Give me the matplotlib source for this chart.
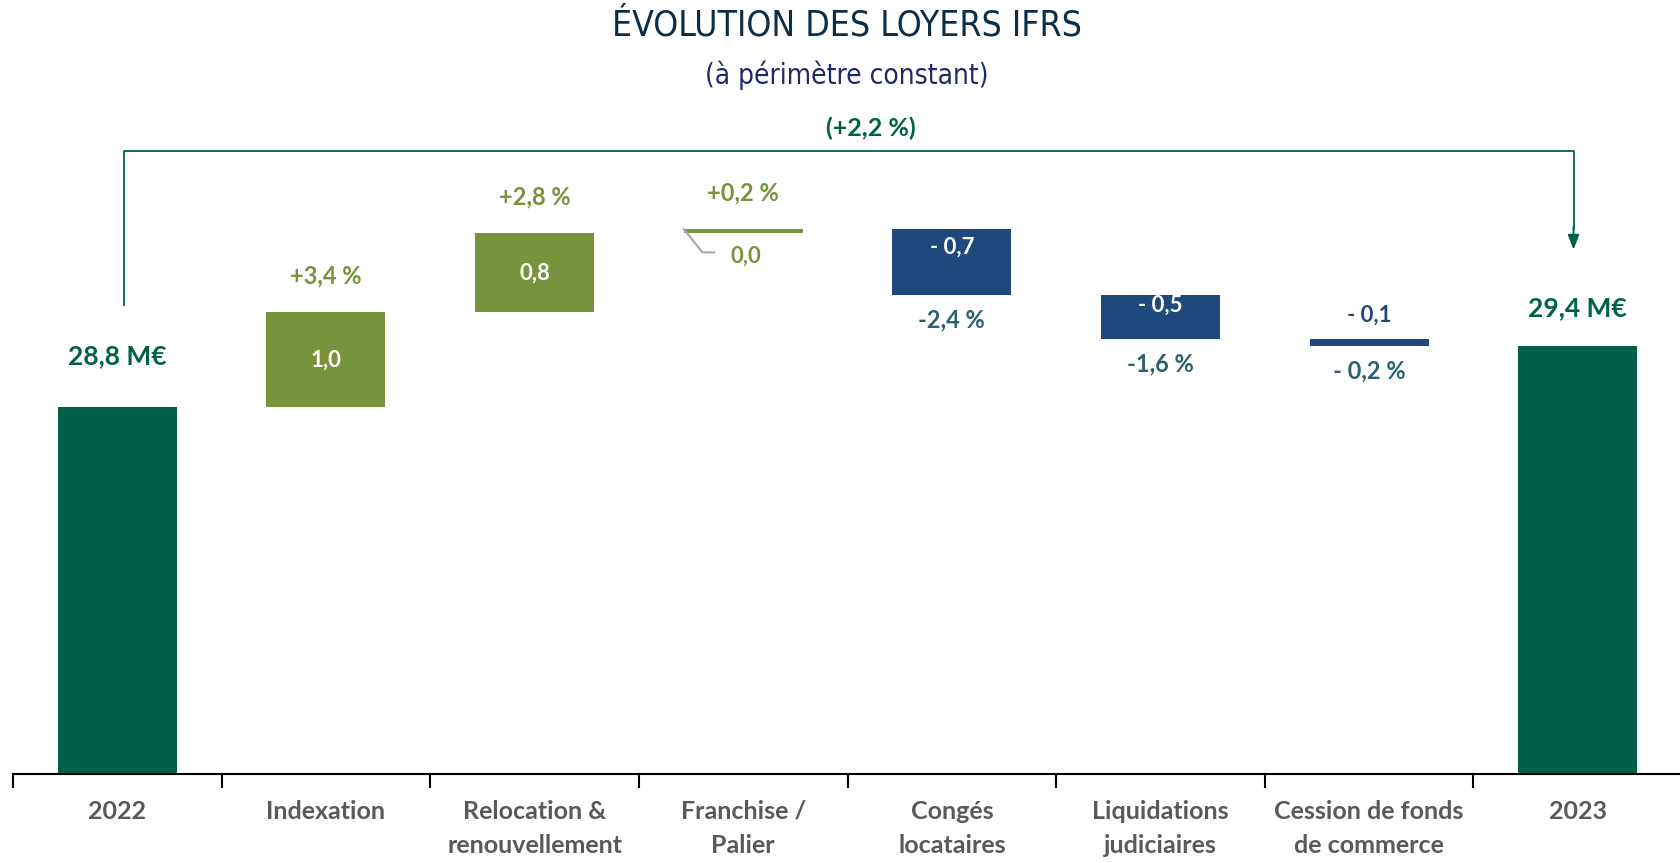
import matplotlib
matplotlib.use('Agg')
import matplotlib.pyplot as plt
from matplotlib import font_manager as fm
import numpy as np

# data (M€)
categories = ['2022', 'Indexation', 'Relocation &\nrenouvellement', 'Franchise /\nPalier',
              'Congés\nlocataires', 'Liquidations\njudiciaires', 'Cession de fonds\nde commerce', '2023']
start_value = 28.8
end_value = 29.4
steps = [0.93, 0.78, 0.04, -0.65, -0.43, -0.07]
step_labels = ['1,0', '0,8', '0,0', '- 0,7', '- 0,5', '- 0,1']
pct_labels = ['+3,4 %', '+2,8 %', '+0,2 %', '-2,4 %', '-1,6 %', '- 0,2 %']
total_labels = ['28,8 M€', '29,4 M€']
total_pct = '(+2,2 %)'

C_TOTAL = '#00614a'
C_POS = '#77933c'
C_NEG = '#1f497d'
C_NEG_TXT = '#2b6170'
C_TICK = '#595959'
LAB = ['Lato', 'DejaVu Sans']

# narrow font for the title if one is installed
narrow_family, narrow_stretch = 'Roboto', 'normal'
for f in fm.fontManager.ttflist:
    if f.style == 'normal' and f.weight in (400, 'normal', 'regular') and (
            'Narrow' in f.name or 'Condensed' in f.name or f.stretch in ('condensed', 'semi-condensed')):
        narrow_family, narrow_stretch = f.name, f.stretch
        break

fig = plt.figure(figsize=(16.8, 8.63), dpi=100)
ax = fig.add_axes([13 / 1680, 0.1037, 1669 / 1680, 0.8963])
ax.set_xlim(-0.5, 7.5)
ax.set_ylim(25.2, 32.8)
W = 0.57

# bars
x = np.arange(len(categories))
ax.bar(x[0], start_value - 25.2, bottom=25.2, width=W, color=C_TOTAL)
ax.bar(x[-1], end_value - 25.2, bottom=25.2, width=W, color=C_TOTAL)
cum = start_value
tops = []
for i, s in enumerate(steps):
    lo, hi = (cum, cum + s) if s >= 0 else (cum + s, cum)
    ax.bar(x[i + 1], hi - lo, bottom=lo, width=W, color=C_POS if s >= 0 else C_NEG)
    tops.append((lo, hi))
    cum += s

# step labels
for i, (s, (lo, hi)) in enumerate(zip(steps, tops)):
    xi = x[i + 1]
    if s >= 0:
        ax.annotate(pct_labels[i], (xi, hi), xytext=(0, 26), textcoords='offset points',
                    ha='center', va='center', fontsize=17, fontweight='bold', color=C_POS, family=LAB)
    else:
        ax.annotate(pct_labels[i], (xi, lo), xytext=(0, -18), textcoords='offset points',
                    ha='center', va='center', fontsize=17, fontweight='bold', color=C_NEG_TXT, family=LAB)

# value labels
VS = 16
ax.text(x[1], sum(tops[0]) / 2, step_labels[0], ha='center', va='center', fontsize=VS,
        fontweight='bold', color='white', family=LAB)
ax.text(x[2], sum(tops[1]) / 2, step_labels[1], ha='center', va='center', fontsize=VS,
        fontweight='bold', color='white', family=LAB)
ax.annotate(step_labels[3], (x[4], tops[3][1]), xytext=(0, -13), textcoords='offset points',
            ha='center', va='center', fontsize=VS, fontweight='bold', color='white', family=LAB)
ax.annotate(step_labels[4], (x[5], tops[4][1]), xytext=(0, -7), textcoords='offset points',
            ha='center', va='center', fontsize=VS, fontweight='bold', color='white', family=LAB)
ax.annotate(step_labels[5], (x[6], tops[5][1]), xytext=(0, 17), textcoords='offset points',
            ha='center', va='center', fontsize=VS, fontweight='bold', color=C_NEG, family=LAB)

# franchise 0,0 with leader line
fx0 = x[3] - W / 2
fy = tops[2][1]
ax.plot([fx0, fx0 + 0.09, fx0 + 0.145], [fy, fy - 0.23, fy - 0.23], color='#a6a6a6', lw=1.5,
        solid_joinstyle='miter')
ax.text(fx0 + 0.225, fy - 0.27, step_labels[2], ha='left', va='center', fontsize=VS,
        fontweight='bold', color=C_POS, family=LAB)

# totals
ax.annotate(total_labels[0], (x[0], start_value), xytext=(0, 37), textcoords='offset points',
            ha='center', va='center', fontsize=19, fontweight='bold', color=C_TOTAL, family=LAB)
ax.annotate(total_labels[1], (x[-1], end_value), xytext=(0, 27), textcoords='offset points',
            ha='center', va='center', fontsize=19, fontweight='bold', color=C_TOTAL, family=LAB)

# bracket with arrow
yb = 31.315
ax.plot([x[0] + 0.03, x[0] + 0.03, x[-1] - 0.02, x[-1] - 0.02], [29.8, yb, yb, 30.55],
        color=C_TOTAL, lw=1.3)
ax.annotate('', xy=(x[-1] - 0.02, 30.32), xytext=(x[-1] - 0.02, 30.6),
            arrowprops=dict(arrowstyle='-|>,head_length=0.9,head_width=0.35', color=C_TOTAL, lw=1.3))
ax.text(3.61, yb + 0.22, total_pct, ha='center', va='center', fontsize=18,
        fontweight='bold', color=C_TOTAL, family=LAB)

# axes styling
for sp in ['left', 'right', 'top']:
    ax.spines[sp].set_visible(False)
ax.spines['bottom'].set_linewidth(1.5)
ax.set_yticks([])
ax.set_xticks(x)
ax.set_xticklabels(categories, fontsize=18, fontweight='bold', color=C_TICK, family=LAB,
                   linespacing=1.58)
ax.tick_params(axis='x', which='major', length=0, pad=19)
ax.set_xticks(np.arange(-0.5, 7.5, 1.0), minor=True)
ax.tick_params(axis='x', which='minor', length=10, width=1.5, direction='out')

# titles, sized so their width matches the reference
t1 = fig.text(0.504, 0.970, 'ÉVOLUTION DES LOYERS IFRS', ha='center', va='center', fontsize=30,
              color='#0c2d48', family=narrow_family, fontstretch=narrow_stretch)
t2 = fig.text(0.504, 0.913, '(à périmètre constant)', ha='center', va='center', fontsize=21,
              color='#1c2a6b', family=narrow_family, fontstretch=narrow_stretch)
fig.canvas.draw()
r = fig.canvas.get_renderer()
for t, target in [(t1, 470), (t2, 284)]:
    w = t.get_window_extent(r).width
    t.set_fontsize(t.get_fontsize() * target / w)

fig.savefig('out.png', dpi=100)
